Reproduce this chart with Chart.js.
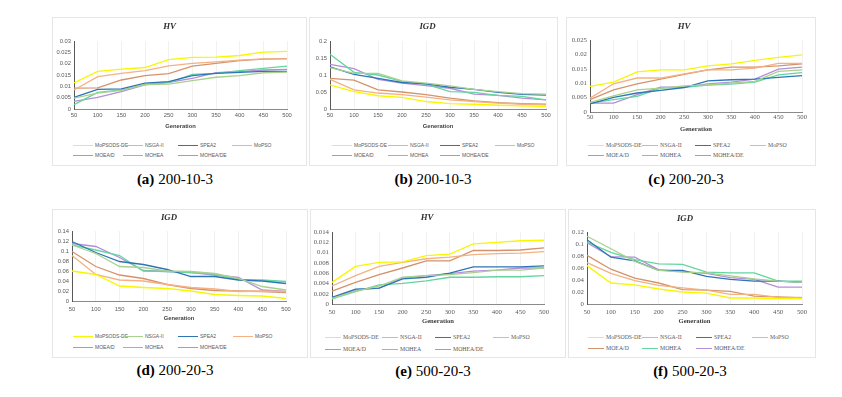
<!DOCTYPE html>
<html><head><meta charset="utf-8">
<script src="https://cdn.jsdelivr.net/npm/chart.js@4.4.1/dist/chart.umd.min.js"></script>
<style>
html,body{margin:0;padding:0;background:#fff;width:842px;height:397px;overflow:hidden;position:relative}
.box{position:absolute;border:1px solid #e6e6e6;box-sizing:border-box}
.wrap{position:absolute}
.lg{position:absolute;white-space:nowrap;display:flex;align-items:center;transform:translateY(-50%)}
.lg i{display:inline-block;height:0;border-top:1.5px solid;margin-right:2px}
.cap{position:absolute;font-family:"Liberation Serif","Times New Roman",serif;font-size:15px;color:#000;transform:translate(-50%,-50%);white-space:nowrap}
</style></head><body>
<script>
const generations = [50,100,150,200,250,300,350,400,450,500];
const seriesNames = ['MoPSODS-DE','NSGA-II','SPEA2','MoPSO','MOEA/D','MOHEA','MOHEA/DE'];
const seriesColors = ['#f7f700','#a9d18e','#2e75b6','#f4b183','#d4936c','#63d69e','#b58edb'];

// (a) HV 200-10-3
const a_MoPSODSDE = [0.0115,0.0166,0.0176,0.0183,0.0218,0.0228,0.0229,0.0236,0.0251,0.0254];
const a_NSGAII    = [0.0048,0.0070,0.0082,0.0108,0.0110,0.0125,0.0140,0.0147,0.0160,0.0163];
const a_SPEA2     = [0.0051,0.0087,0.0089,0.0114,0.0121,0.0147,0.0157,0.0162,0.0166,0.0166];
const a_MoPSO     = [0.0084,0.0143,0.0157,0.0169,0.0190,0.0201,0.0208,0.0216,0.0221,0.0221];
const a_MOEAD     = [0.0092,0.0093,0.0128,0.0147,0.0156,0.0189,0.0201,0.0213,0.0220,0.0222];
const a_MOHEA     = [0.0019,0.0073,0.0084,0.0110,0.0116,0.0153,0.0157,0.0169,0.0179,0.0189];
const a_MOHEADE   = [0.0034,0.0051,0.0077,0.0106,0.0118,0.0135,0.0160,0.0165,0.0172,0.0175];

// (b) IGD 200-10-3
const b_MoPSODSDE = [0.071,0.051,0.039,0.034,0.022,0.016,0.014,0.011,0.009,0.007];
const b_NSGAII    = [0.122,0.105,0.105,0.083,0.076,0.068,0.058,0.051,0.045,0.044];
const b_SPEA2     = [0.124,0.102,0.090,0.078,0.074,0.064,0.058,0.049,0.043,0.041];
const b_MoPSO     = [0.087,0.056,0.047,0.042,0.035,0.027,0.022,0.017,0.014,0.012];
const b_MOEAD     = [0.090,0.085,0.056,0.050,0.042,0.032,0.024,0.019,0.016,0.014];
const b_MOHEA     = [0.161,0.108,0.100,0.081,0.073,0.051,0.049,0.040,0.037,0.027];
const b_MOHEADE   = [0.131,0.119,0.087,0.076,0.069,0.061,0.044,0.040,0.032,0.027];

// (c) HV 200-20-3
const c_MoPSODSDE = [0.0089,0.0104,0.0139,0.0146,0.0146,0.0160,0.0167,0.0179,0.0190,0.0198];
const c_NSGAII    = [0.0033,0.0056,0.0077,0.0083,0.0091,0.0094,0.0100,0.0106,0.0141,0.0146];
const c_SPEA2     = [0.0028,0.0051,0.0066,0.0075,0.0085,0.0108,0.0112,0.0114,0.0120,0.0126];
const c_MoPSO     = [0.0048,0.0098,0.0118,0.0118,0.0132,0.0146,0.0146,0.0152,0.0169,0.0169];
const c_MOEAD     = [0.0043,0.0077,0.0098,0.0114,0.0131,0.0146,0.0156,0.0156,0.0160,0.0167];
const c_MOHEA     = [0.0031,0.0043,0.0054,0.0083,0.0086,0.0093,0.0097,0.0104,0.0129,0.0137];
const c_MOHEADE   = [0.0031,0.0031,0.0060,0.0086,0.0086,0.0098,0.0104,0.0114,0.0149,0.0156];

// (d) IGD 200-20-3
const d_MoPSODSDE = [0.060,0.053,0.030,0.027,0.025,0.020,0.013,0.011,0.010,0.005];
const d_NSGAII    = [0.112,0.095,0.069,0.067,0.060,0.059,0.055,0.045,0.029,0.022];
const d_SPEA2     = [0.119,0.097,0.079,0.073,0.063,0.049,0.049,0.042,0.040,0.035];
const d_MoPSO     = [0.091,0.053,0.042,0.040,0.033,0.027,0.024,0.019,0.020,0.019];
const d_MOEAD     = [0.099,0.069,0.052,0.045,0.033,0.025,0.021,0.020,0.019,0.017];
const d_MOHEA     = [0.112,0.102,0.091,0.060,0.059,0.057,0.054,0.043,0.042,0.039];
const d_MOHEADE   = [0.115,0.109,0.087,0.061,0.059,0.057,0.052,0.047,0.022,0.019];

// (e) HV 500-20-3
const e_MoPSODSDE = [0.0042,0.0073,0.0081,0.0082,0.0094,0.0097,0.0117,0.0120,0.0123,0.0124];
const e_NSGAII    = [0.0011,0.0025,0.0035,0.0052,0.0055,0.0057,0.0061,0.0066,0.0066,0.0070];
const e_SPEA2     = [0.0013,0.0029,0.0031,0.0049,0.0052,0.0060,0.0072,0.0072,0.0072,0.0074];
const e_MoPSO     = [0.0035,0.0055,0.0073,0.0081,0.0088,0.0091,0.0096,0.0098,0.0099,0.0102];
const e_MOEAD     = [0.0025,0.0042,0.0057,0.0070,0.0084,0.0084,0.0104,0.0104,0.0105,0.0109];
const e_MOHEA     = [0.0010,0.0024,0.0037,0.0040,0.0045,0.0052,0.0052,0.0053,0.0053,0.0055];
const e_MOHEADE   = [0.0012,0.0027,0.0031,0.0051,0.0055,0.0059,0.0064,0.0066,0.0070,0.0070];

// (f) IGD 500-20-3
const f_MoPSODSDE = [0.064,0.035,0.032,0.025,0.020,0.018,0.010,0.010,0.009,0.009];
const f_NSGAII    = [0.113,0.092,0.071,0.056,0.053,0.052,0.047,0.042,0.038,0.036];
const f_SPEA2     = [0.107,0.078,0.072,0.056,0.056,0.046,0.041,0.038,0.038,0.036];
const f_MoPSO     = [0.069,0.051,0.039,0.031,0.027,0.023,0.016,0.016,0.011,0.011];
const f_MOEAD     = [0.081,0.058,0.043,0.035,0.024,0.023,0.021,0.013,0.012,0.010];
const f_MOHEA     = [0.103,0.086,0.074,0.067,0.066,0.053,0.052,0.052,0.038,0.038];
const f_MOHEADE   = [0.102,0.079,0.078,0.057,0.054,0.051,0.044,0.041,0.028,0.028];

const panelTitles = ['HV','IGD','HV','IGD','HV','IGD'];
const panelLetters = ['(a)','(b)','(c)','(d)','(e)','(f)'];
const panelCases = ['200-10-3','200-10-3','200-20-3','200-20-3','500-20-3','500-20-3'];
const panelYMax = [0.03,0.2,0.025,0.14,0.014,0.12];
const panelYStep = [0.005,0.05,0.005,0.02,0.002,0.02];
const panelSeries = [
  [a_MoPSODSDE,a_NSGAII,a_SPEA2,a_MoPSO,a_MOEAD,a_MOHEA,a_MOHEADE],
  [b_MoPSODSDE,b_NSGAII,b_SPEA2,b_MoPSO,b_MOEAD,b_MOHEA,b_MOHEADE],
  [c_MoPSODSDE,c_NSGAII,c_SPEA2,c_MoPSO,c_MOEAD,c_MOHEA,c_MOHEADE],
  [d_MoPSODSDE,d_NSGAII,d_SPEA2,d_MoPSO,d_MOEAD,d_MOHEA,d_MOHEADE],
  [e_MoPSODSDE,e_NSGAII,e_SPEA2,e_MoPSO,e_MOEAD,e_MOHEA,e_MOHEADE],
  [f_MoPSODSDE,f_NSGAII,f_SPEA2,f_MoPSO,f_MOEAD,f_MOHEA,f_MOHEADE]
];

// layout (positions only)
const layouts = [
  {serif:false, box:[52,17,255,149], area:[74,287,41,109], titleY:27, tickY:115, genY:127, legY:[145,155], legX:[73,123,178,232], capX:175, capY:179},
  {serif:false, box:[309,17,249,149], area:[330,546,41,109], titleY:27, tickY:115, genY:127, legY:[145,155], legX:[332,388,440,495], capX:433, capY:179},
  {serif:true,  box:[566,17,250,149], area:[590,802,40,112], titleY:27, tickY:117, genY:129, legY:[145,155], legX:[588,642,695,750], capX:686, capY:179},
  {serif:false, box:[52,209,256,149], area:[72,286,231,301], titleY:218, tickY:309, genY:319, legY:[336,347], legX:[73,123,178,233], capX:175, capY:370},
  {serif:true,  box:[310,209,256,149], area:[332,544,232,304], titleY:218, tickY:312, genY:321, legY:[337,349], legX:[325,382,435,493], capX:433, capY:371},
  {serif:true,  box:[568,209,248,149], area:[587,802,232,304], titleY:219, tickY:312, genY:321, legY:[337,348], legX:[588,642,696,752], capX:690, capY:371}
];

const SANS = '"Liberation Sans", Arial, sans-serif';
const SERIF = '"Liberation Serif", "Times New Roman", serif';

layouts.forEach((L, k) => {
  const [bl, bt, bw, bh] = L.box;
  const box = document.createElement('div');
  box.className = 'box';
  Object.assign(box.style, {left: bl+'px', top: bt+'px', width: bw+'px', height: bh+'px'});
  document.body.appendChild(box);

  const fam = L.serif ? SERIF : SANS;
  const tickSize = L.serif ? 6.8 : 5.8;
  const genSize = L.serif ? 6.6 : 5.8;
  const genLH = genSize * 1.2;
  const ch = Math.round(L.genY - bt + genLH / 2 + 1);

  const wrap = document.createElement('div');
  wrap.className = 'wrap';
  Object.assign(wrap.style, {left: bl+'px', top: bt+'px', width: bw+'px', height: ch+'px'});
  const canvas = document.createElement('canvas');
  canvas.width = bw; canvas.height = ch;
  canvas.style.width = bw+'px'; canvas.style.height = ch+'px';
  wrap.appendChild(canvas);
  document.body.appendChild(wrap);

  const titleSize = 8.8, titleLH = titleSize * 1.2;
  const tPadTop = L.titleY - bt - titleLH / 2;
  const tPadBot = (L.area[2] - bt) - tPadTop - titleLH;
  const yW = L.area[0] - bl;
  const xH = ch - (L.area[3] - bt);
  const padRight = bl + bw - L.area[1];
  const tickPad = Math.max(0, L.tickY - L.area[3] - tickSize * 1.2 / 2);

  const chart = new Chart(canvas, {
    type: 'line',
    data: {
      labels: generations,
      datasets: panelSeries[k].map((d, i) => ({
        label: seriesNames[i], data: d,
        borderColor: seriesColors[i], backgroundColor: seriesColors[i],
        borderWidth: 1.3, pointRadius: 0, tension: 0, fill: false
      }))
    },
    options: {
      responsive: false, animation: false,
      layout: {padding: {left: 0, right: padRight, top: 0, bottom: 0}},
      plugins: {
        legend: {display: false},
        tooltip: {enabled: false},
        title: {
          display: true, text: panelTitles[k], color: '#333',
          font: {family: SERIF, size: titleSize, style: 'italic', weight: 'bold', lineHeight: 1.2},
          padding: {top: tPadTop, bottom: tPadBot}
        }
      },
      scales: {
        x: {
          type: 'category', offset: false,
          grid: {display: true, color: '#f1f1f1', drawTicks: false},
          border: {display: true, color: '#8a8a8a', width: 1},
          ticks: {font: {family: fam, size: tickSize}, color: '#595959', padding: tickPad, maxRotation: 0, autoSkip: false},
          title: {display: true, text: 'Generation', color: '#404040',
            font: {family: fam, size: genSize, weight: 'bold', lineHeight: 1.2},
            padding: {top: 0, bottom: 1}},
          afterFit: s => { s.height = xH; }
        },
        y: {
          min: 0, max: panelYMax[k],
          ticks: {stepSize: panelYStep[k], autoSkip: false, font: {family: fam, size: tickSize}, color: '#595959', padding: 3,
            callback: v => String(+Number(v).toFixed(4))},
          grid: {display: false, drawTicks: false},
          border: {display: true, color: '#595959', width: 1},
          afterFit: s => { s.width = yW; }
        }
      }
    }
  });

  // HTML legend generated from the chart's datasets
  const legFont = L.serif ? SERIF : '"Liberation Sans Narrow", "Liberation Sans", Arial, sans-serif';
  const legSize = L.serif ? 5.8 : 5;
  const lineLen = L.serif ? 16 : 20;
  chart.data.datasets.forEach((ds, i) => {
    const it = document.createElement('div');
    it.className = 'lg';
    Object.assign(it.style, {left: L.legX[i % 4]+'px', top: L.legY[Math.floor(i / 4)]+'px',
      fontFamily: legFont, fontSize: legSize+'px', color: '#595959'});
    const ln = document.createElement('i');
    ln.style.width = lineLen+'px';
    ln.style.borderColor = ds.borderColor;
    const tx = document.createElement('span');
    tx.textContent = ds.label;
    it.appendChild(ln); it.appendChild(tx);
    document.body.appendChild(it);
  });

  const cap = document.createElement('div');
  cap.className = 'cap';
  Object.assign(cap.style, {left: L.capX+'px', top: L.capY+'px'});
  const b = document.createElement('b');
  b.textContent = panelLetters[k];
  cap.appendChild(b);
  cap.appendChild(document.createTextNode(' ' + panelCases[k]));
  document.body.appendChild(cap);
});
</script>
</body></html>
